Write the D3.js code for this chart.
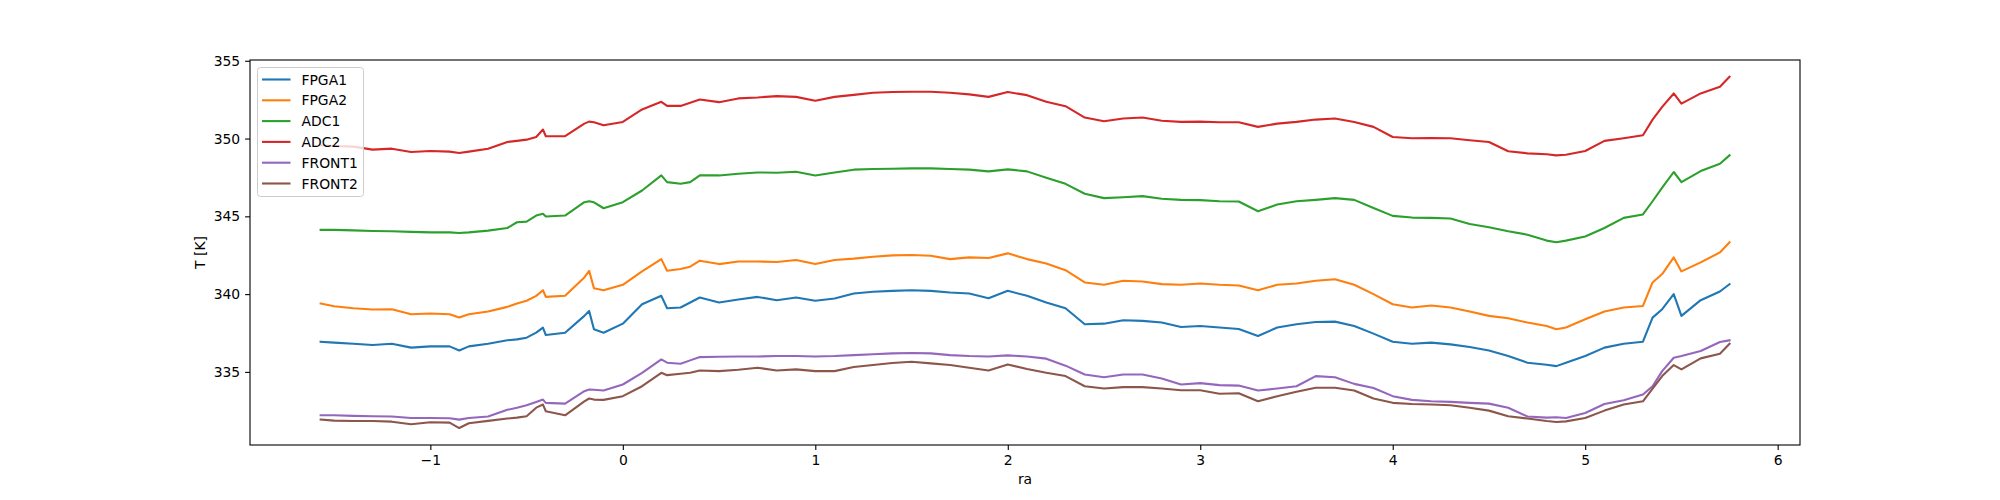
<!DOCTYPE html>
<html>
<head>
<meta charset="utf-8">
<script src="https://cdn.jsdelivr.net/npm/d3@7/dist/d3.min.js"></script>
<style>
  html, body { margin: 0; padding: 0; background: #fff; }
  svg { display: block; }
  text { font-family: "DejaVu Sans", sans-serif; }
</style>
</head>
<body>
<svg id="chart" width="2000" height="500"></svg>
<script>
// ---- data ----
const ra = [-1.57,-1.5,-1.4,-1.3,-1.2,-1.1,-1.0,-0.9,-0.85,-0.8,-0.7,-0.6,-0.55,-0.5,-0.45,-0.415,-0.4,-0.3,-0.2,-0.175,-0.15,-0.1,
  0.0,0.1,0.2,0.23,0.3,0.35,0.4,0.5,0.6,0.7,0.8,0.9,1.0,1.1,1.2,1.3,1.4,1.5,1.6,1.7,1.8,1.9,2.0,2.1,2.2,2.3,2.4,2.5,2.6,2.7,2.8,2.9,
  3.0,3.1,3.2,3.3,3.4,3.5,3.6,3.7,3.8,3.9,4.0,4.1,4.2,4.3,4.4,4.5,4.6,4.7,4.8,4.85,4.9,5.0,5.1,5.2,5.3,5.35,5.4,5.46,5.5,5.6,5.7,5.75];

const FPGA1 = [336.94,336.88,336.81,336.73,336.81,336.56,336.64,336.64,336.38,336.64,336.81,337.03,337.09,337.2,337.52,337.85,337.37,337.52,338.6,338.92,337.74,337.52,
  338.1,339.35,339.89,339.09,339.14,339.46,339.78,339.46,339.65,339.82,339.61,339.78,339.57,339.72,340.04,340.15,340.21,340.25,340.21,340.1,340.04,339.74,340.21,339.89,339.46,339.09,338.06,338.1,338.32,338.28,338.17,337.89,
  337.95,337.85,337.76,337.31,337.85,338.06,338.21,338.23,337.95,337.46,336.94,336.81,336.88,336.77,336.6,336.38,336.02,335.59,335.46,335.37,335.59,336.02,336.56,336.81,336.94,338.49,339.03,340.0,338.6,339.61,340.17,340.64];

const FPGA2 = [339.4,339.22,339.09,339.01,339.03,338.71,338.75,338.71,338.49,338.71,338.88,339.18,339.4,339.57,339.89,340.25,339.82,339.89,341.07,341.5,340.38,340.25,
  340.6,341.46,342.25,341.5,341.61,341.76,342.15,341.93,342.1,342.1,342.06,342.19,341.93,342.19,342.28,342.4,342.49,342.51,342.47,342.25,342.36,342.32,342.62,342.25,341.97,341.54,340.75,340.6,340.86,340.81,340.64,340.6,
  340.68,340.6,340.55,340.25,340.6,340.68,340.86,340.96,340.6,340.0,339.35,339.14,339.27,339.14,338.88,338.6,338.45,338.17,337.95,337.74,337.85,338.38,338.88,339.14,339.24,340.75,341.29,342.36,341.46,342.04,342.68,343.33];

const ADC1 = [344.13,344.13,344.1,344.06,344.04,344.0,343.97,343.97,343.93,343.97,344.08,344.25,344.62,344.66,345.05,345.16,344.99,345.05,345.91,345.97,345.9,345.52,
  345.91,346.66,347.63,347.2,347.09,347.2,347.63,347.63,347.74,347.82,347.8,347.87,347.63,347.82,348.0,348.04,348.06,348.08,348.08,348.04,348.0,347.89,348.02,347.89,347.48,347.09,346.45,346.17,346.23,346.3,346.13,346.06,
  346.04,345.97,345.95,345.33,345.76,345.97,346.06,346.17,346.06,345.54,345.03,344.92,344.9,344.86,344.51,344.3,344.04,343.82,343.44,343.33,343.44,343.7,344.25,344.9,345.12,345.97,346.84,347.85,347.2,347.91,348.38,348.92];

const ADC2 = [349.57,349.52,349.48,349.29,349.35,349.14,349.2,349.16,349.07,349.16,349.35,349.78,349.85,349.93,350.1,350.58,350.15,350.15,350.96,351.09,351.05,350.85,
  351.07,351.87,352.36,352.1,352.1,352.3,352.51,352.34,352.58,352.64,352.73,352.68,352.43,352.68,352.81,352.94,352.99,353.01,353.01,352.94,352.84,352.68,352.99,352.79,352.36,352.08,351.35,351.11,351.29,351.35,351.14,351.07,
  351.09,351.05,351.05,350.75,350.96,351.07,351.22,351.29,351.07,350.75,350.1,350.02,350.04,350.02,349.89,349.78,349.18,349.05,348.99,348.92,348.96,349.2,349.85,350.02,350.21,351.22,352.04,352.9,352.25,352.9,353.33,353.97];

const FRONT1 = [332.21,332.21,332.17,332.15,332.13,332.04,332.04,332.02,331.93,332.04,332.13,332.56,332.69,332.86,333.07,333.22,333.01,332.96,333.76,333.87,333.85,333.8,
  334.19,334.94,335.8,335.59,335.52,335.74,335.95,335.97,335.99,335.99,336.02,336.02,335.99,336.02,336.08,336.13,336.19,336.21,336.19,336.08,336.02,335.99,336.06,335.99,335.85,335.4,334.83,334.66,334.83,334.83,334.58,334.19,
  334.28,334.15,334.12,333.8,333.93,334.08,334.73,334.66,334.23,333.97,333.44,333.2,333.11,333.07,333.01,332.96,332.69,332.13,332.06,332.08,332.04,332.36,332.94,333.18,333.55,334.08,335.05,335.91,336.02,336.34,336.92,337.03];

const FRONT2 = [331.93,331.87,331.84,331.84,331.8,331.63,331.76,331.74,331.39,331.7,331.85,332.0,332.06,332.15,332.7,332.9,332.47,332.21,333.1,333.29,333.22,333.2,
  333.44,334.08,334.94,334.79,334.88,334.94,335.09,335.05,335.14,335.27,335.09,335.16,335.05,335.05,335.31,335.44,335.57,335.65,335.55,335.44,335.27,335.09,335.48,335.18,334.94,334.73,334.08,333.93,334.02,334.02,333.93,333.82,
  333.82,333.59,333.63,333.11,333.44,333.72,333.98,333.98,333.8,333.29,333.01,332.94,332.9,332.86,332.69,332.51,332.15,332.0,331.84,331.78,331.82,332.04,332.51,332.9,333.11,333.93,334.73,335.44,335.16,335.87,336.17,336.81];

const seriesNames = ["FPGA1","FPGA2","ADC1","ADC2","FRONT1","FRONT2"];
const seriesValues = [FPGA1, FPGA2, ADC1, ADC2, FRONT1, FRONT2];
const colors = ["#1f77b4","#ff7f0e","#2ca02c","#d62728","#9467bd","#8c564b"];
const xTicks = [-1,0,1,2,3,4,5,6];
const yTicks = [335,340,345,350,355];
const xLabel = "ra";
const yLabel = "T [K]";

// ---- layout ----
const L = 250, R = 1800, T = 60, B = 445;
const svg = d3.select("#chart");
const fs = 13.9;

const x = d3.scaleLinear().domain([-1.937, 6.116]).range([L, R]);
const y = d3.scaleLinear().domain([330.3, 355.05]).range([B, T]);

// clip
svg.append("defs").append("clipPath").attr("id","clip")
  .append("rect").attr("x",L).attr("y",T).attr("width",R-L).attr("height",B-T);

const line = d3.line().x(d => x(d[0])).y(d => y(d[1]));
const g = svg.append("g").attr("clip-path","url(#clip)");
seriesValues.forEach((vals, i) => {
  const pts = ra.map((r, k) => [r, vals[k]]);
  g.append("path").datum(pts)
    .attr("d", line)
    .attr("fill","none")
    .attr("stroke", colors[i])
    .attr("stroke-width", 2.1)
    .attr("stroke-linejoin","round")
    .attr("stroke-linecap","square");
});

// axes
const fmt = d => (d < 0 ? "\u2212" + Math.abs(d) : String(d));
const xAxis = d3.axisBottom(x).tickValues(xTicks).tickFormat(fmt).tickSizeOuter(0).tickSize(4.9).tickPadding(4.9);
const yAxis = d3.axisLeft(y).tickValues(yTicks).tickFormat(d => String(d)).tickSizeOuter(0).tickSize(4.9).tickPadding(4.9);

const gx = svg.append("g").attr("transform", `translate(0,${B})`).call(xAxis);
const gy = svg.append("g").attr("transform", `translate(${L},0)`).call(yAxis);
[gx, gy].forEach(a => {
  a.select(".domain").remove();
  a.selectAll(".tick line").attr("stroke","#000").attr("stroke-width",1.1);
  a.selectAll(".tick text").attr("fill","#000").style("font-size", fs + "px").style("font-family","DejaVu Sans");
});
gx.selectAll(".tick text").attr("dy","0.75em");

// spines
svg.append("rect").attr("x",L).attr("y",T).attr("width",R-L).attr("height",B-T)
  .attr("fill","none").attr("stroke","#000").attr("stroke-width",1.1);

// axis labels
svg.append("text").attr("x",(L+R)/2).attr("y",484).attr("text-anchor","middle")
  .style("font-size",fs+"px").text(xLabel);
svg.append("text").attr("transform",`translate(205,${(T+B)/2}) rotate(-90)`)
  .attr("text-anchor","middle").style("font-size",fs+"px").text(yLabel);

// legend
const lg = svg.append("g");
lg.append("rect").attr("x",257.5).attr("y",67.5).attr("width",106).attr("height",129)
  .attr("rx",3).attr("fill","#fff").attr("fill-opacity",0.8).attr("stroke","#cccccc").attr("stroke-width",1);
seriesNames.forEach((n, i) => {
  const yy = 79.5 + i * 20.8;
  lg.append("line").attr("x1",262).attr("x2",290.5).attr("y1",yy).attr("y2",yy)
    .attr("stroke",colors[i]).attr("stroke-width",2.1);
  lg.append("text").attr("x",301.5).attr("y",yy).attr("dy","0.36em")
    .style("font-size",fs+"px").text(n);
});
</script>
</body>
</html>
